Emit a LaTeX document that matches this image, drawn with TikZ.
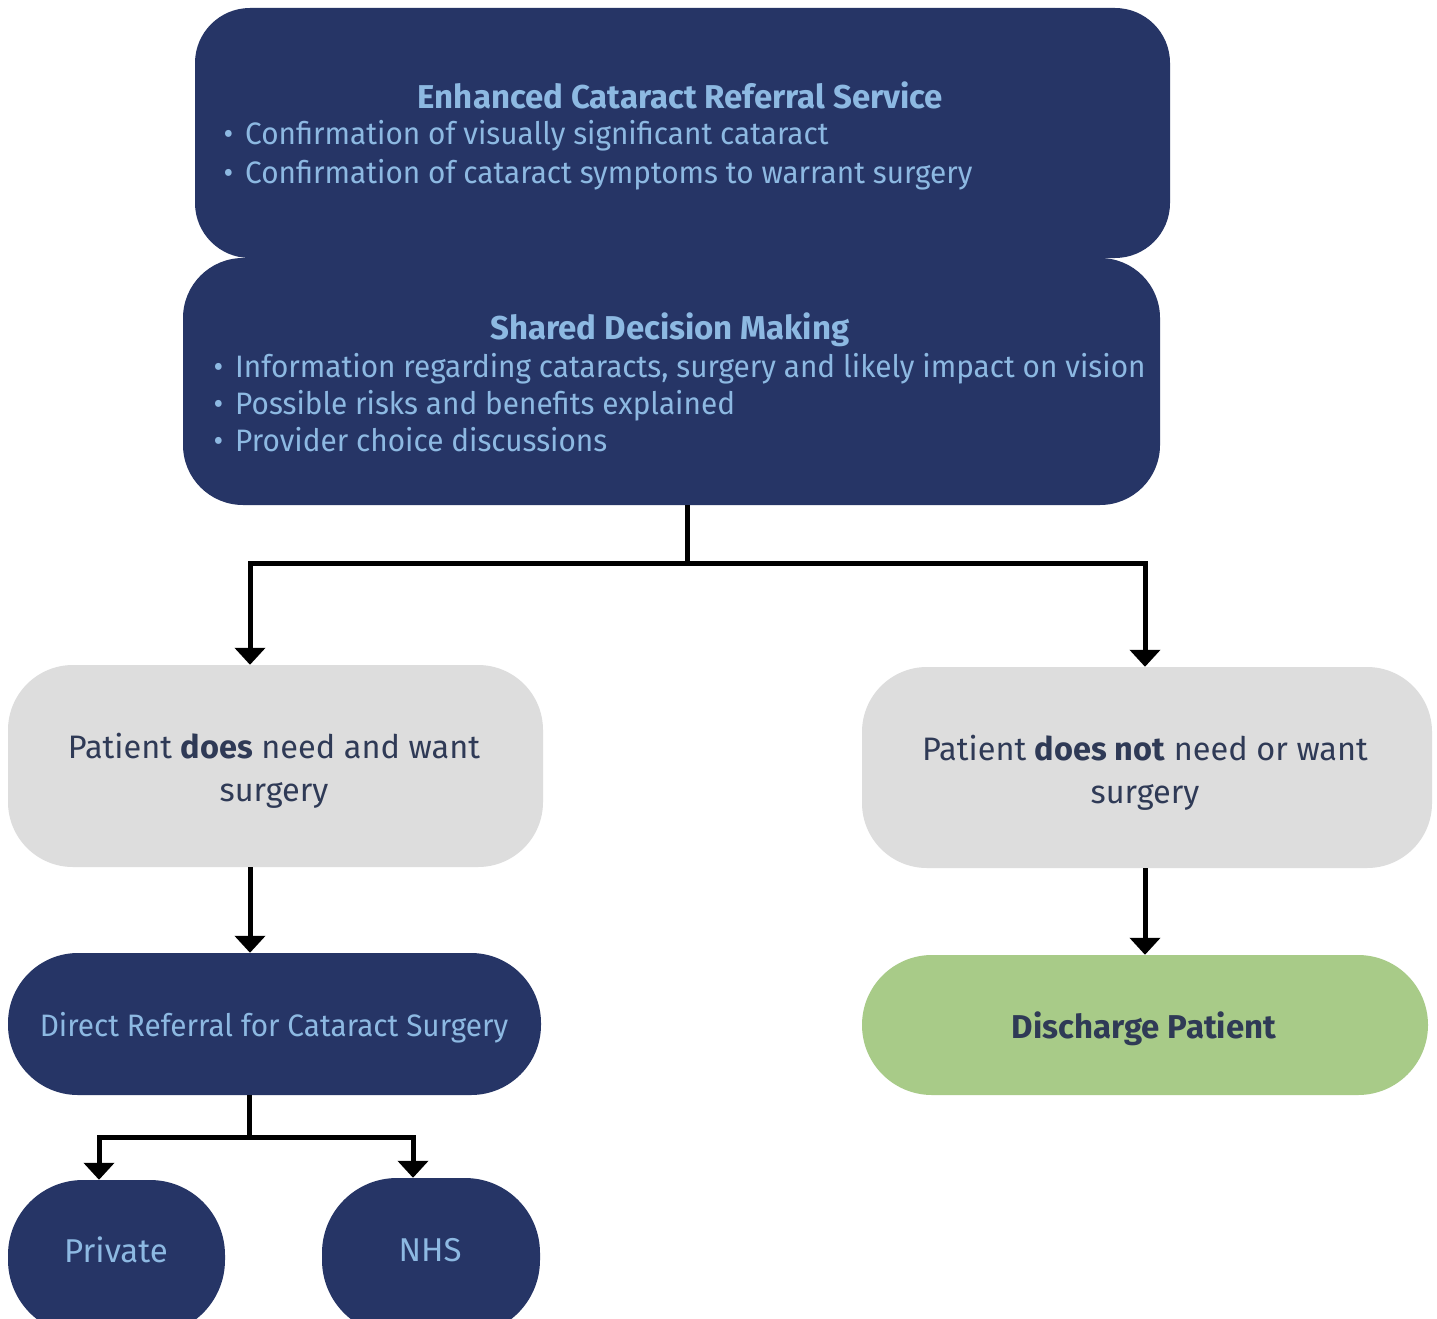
\documentclass[tikz,border=0pt]{standalone}
\usepackage{fontspec}
\setmainfont{Fira Sans}
\newfontfamily\cond[FakeStretch=0.96]{Fira Sans}
\usetikzlibrary{arrows.meta}
\definecolor{navy}{HTML}{263566}
\definecolor{lblue}{HTML}{8DB9E2}
\definecolor{lgray}{HTML}{DDDDDD}
\definecolor{lgreen}{HTML}{A8CB88}
\definecolor{dtext}{HTML}{2F3A56}
\tikzset{
  navybox/.style={fill=navy, draw=none, inner sep=0pt},
  graybox/.style={fill=lgray, draw=none, inner sep=0pt, rounded corners=65pt},
  greenbox/.style={fill=lgreen, draw=none, inner sep=0pt, rounded corners=70pt},
  btxt/.style={text=lblue, inner sep=0pt, anchor=base west, font=\cond\fontsize{31}{37}\selectfont},
  ttl/.style={text=lblue, inner sep=0pt, anchor=base, font=\bfseries\fontsize{33}{38}\selectfont},
  gtxt/.style={text=dtext, inner sep=0pt, anchor=base, font=\fontsize{32.5}{38}\selectfont},
  conn/.style={line width=5pt, draw=black},
  arr/.style={conn, -{Triangle[width=30pt,length=17pt]}}
}
\begin{document}
\begin{tikzpicture}[x=1pt,y=-1pt]
\useasboundingbox (0,0) rectangle (1437,1319);
\fill[white] (0,0) rectangle (1437,1319);
\begin{scope}
\clip (0,0) rectangle (1437,1319);
% boxes
\node[navybox, rounded corners=60pt, minimum width=977pt, minimum height=247pt] (sdm) at (671.5,381.5) {};
\node[navybox, rounded corners=55pt, minimum width=975pt, minimum height=250pt] (ecrs) at (682.5,133) {};
\node[graybox, minimum width=535pt, minimum height=202pt] (need) at (275.5,766) {};
\node[graybox, minimum width=570pt, minimum height=201pt] (noneed) at (1147,767.5) {};
\node[navybox, rounded corners=70pt, minimum width=533pt, minimum height=142pt] (direct) at (274.5,1024) {};
\node[greenbox, minimum width=566pt, minimum height=140pt] (discharge) at (1145,1025) {};
\node[navybox, rounded corners=75pt, minimum width=217pt, minimum height=155pt] (private) at (116.5,1257.5) {};
\node[navybox, rounded corners=75pt, minimum width=218pt, minimum height=157pt] (nhs) at (431,1256.5) {};
% texts
\node[ttl] (ecrs-t) at (680.5,108.5) {Enhanced Cataract Referral Service};
\node[btxt] (ecrs-b1) at (245,145) {\llap{•\hspace{12pt}}Confirmation of visually significant cataract};
\node[btxt] (ecrs-b2) at (245,183) {\llap{•\hspace{12pt}}Confirmation of cataract symptoms to warrant surgery};
\node[ttl] (sdm-t) at (670,339) {Shared Decision Making};
\node[btxt] (sdm-b1) at (235,377) {\llap{•\hspace{12pt}}Information regarding cataracts, surgery and likely impact on vision};
\node[btxt] (sdm-b2) at (235,414) {\llap{•\hspace{12pt}}Possible risks and benefits explained};
\node[btxt] (sdm-b3) at (235,451) {\llap{•\hspace{12pt}}Provider choice discussions};
\node[gtxt] (need-t1) at (274,758) {Patient \textbf{does} need and want};
\node[gtxt] (need-t2) at (274,801) {surgery};
\node[gtxt] (noneed-t1) at (1145,760) {Patient \textbf{does not} need or want};
\node[gtxt] (noneed-t2) at (1145,803) {surgery};
\node[text=lblue, inner sep=0pt, anchor=base, font=\cond\fontsize{31}{37}\selectfont] (direct-t) at (274,1036) {Direct Referral for Cataract Surgery};
\node[text=dtext, inner sep=0pt, anchor=base, font=\bfseries\fontsize{33}{38}\selectfont] (discharge-t) at (1144,1038) {Discharge Patient};
\node[text=lblue, inner sep=0pt, anchor=base, font=\fontsize{33}{38}\selectfont] (private-t) at (116,1262) {Private};
\node[text=lblue, inner sep=0pt, anchor=base, font=\fontsize{33}{38}\selectfont] (nhs-t) at (430,1261) {NHS};
% connector coordinates
\coordinate (mx) at (687,0);
\coordinate (lx) at (250,0);
\coordinate (rx) at (1145,0);
\coordinate (bx) at (249,0);
\coordinate (px) at (99,0);
\coordinate (nx) at (413,0);
\coordinate (split1) at (687,563);
\coordinate (split2) at (249,1137);
% connectors
\draw[conn] (sdm.south -| mx) -- (split1);
\draw[arr] (split1) -| (need.north -| lx);
\draw[arr] (split1) -| (noneed.north -| rx);
\draw[arr] (need.south -| lx) -- (direct.north -| lx);
\draw[arr] (noneed.south -| rx) -- (discharge.north -| rx);
\draw[conn] (direct.south -| bx) -- (split2);
\draw[arr] (split2) -| (private.north -| px);
\draw[arr] (split2) -| (nhs.north -| nx);
\end{scope}
\end{tikzpicture}
\end{document}
